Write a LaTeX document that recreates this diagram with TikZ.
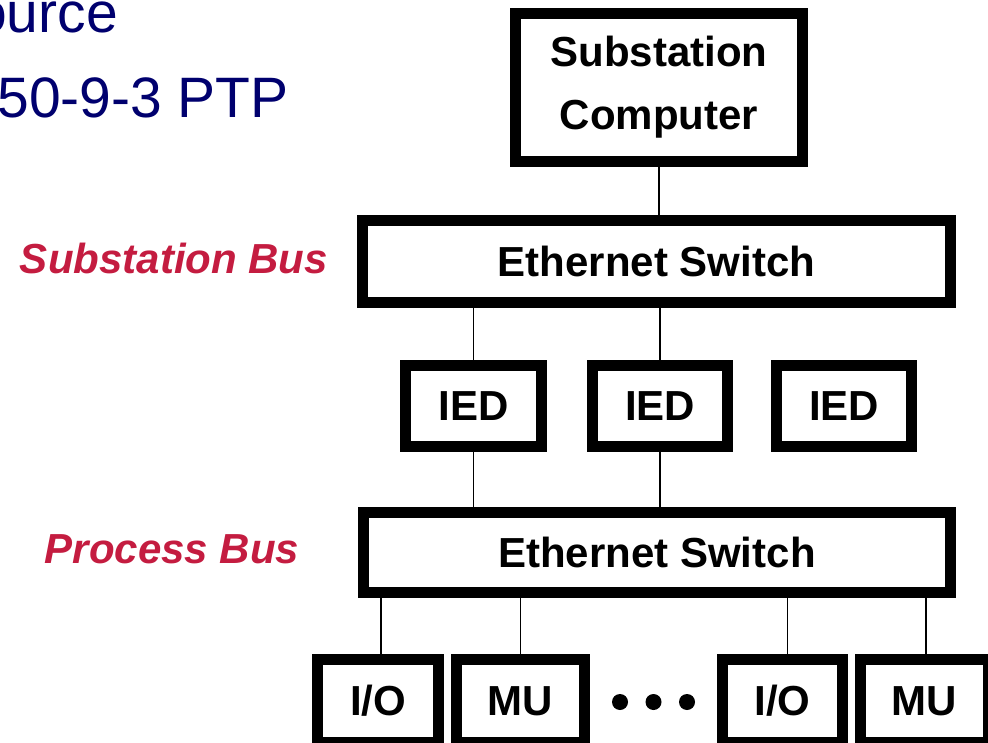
\documentclass[tikz,border=0pt]{standalone}
\usepackage{fontspec}
\setmainfont{Liberation Sans}
\usetikzlibrary{positioning,calc}
\definecolor{busred}{RGB}{196,28,64}
\definecolor{slidenavy}{RGB}{0,0,110}

\begin{document}
\begin{tikzpicture}[
    x=1pt, y=-1pt,
    box/.style={draw, line width=11pt, fill=white, inner sep=0pt, align=center,
                font=\fontsize{42}{63}\selectfont\bfseries},
    lbl/.style={text=busred, inner sep=0pt, font=\fontsize{42}{50}\selectfont\bfseries\itshape},
    note/.style={text=slidenavy, inner sep=0pt, anchor=base east,
                 font=\fontsize{57}{68}\selectfont},
    link/.style={line width=1.5pt},
    dot/.style={fill, circle, minimum size=16pt, inner sep=0pt},
  ]
    \useasboundingbox (0,0) rectangle (988,743);
    \clip (0,0) rectangle (988,743);
    % slide text cut off at the left edge
    \node[note] (src) at (118,33) {ource};
    \node[note] (ptp) at (289,118) {50-9-3 PTP};
    % boxes
    \node[box, minimum width=287pt, minimum height=148pt] (comp) at (659,87.5) {Substation\\Computer};
    \node[box, minimum width=588pt, minimum height=82pt]  (sw1)  at (656.5,261.5) {Ethernet Switch};
    \node[box, minimum width=136pt, minimum height=81pt]  (ied1) at (473.5,406) {IED};
    \node[box, minimum width=135pt, minimum height=81pt]  (ied2) at (660,406) {IED};
    \node[box, minimum width=135pt, minimum height=81pt]  (ied3) at (844,406) {IED};
    \node[box, minimum width=587pt, minimum height=80pt]  (sw2)  at (657,552.5) {Ethernet Switch};
    \node[box, minimum width=121pt, minimum height=83pt]  (io1)  at (378,701) {I/O};
    \node[box, minimum width=128pt, minimum height=83pt]  (mu1)  at (520.5,701) {MU};
    \node[box, minimum width=120pt, minimum height=83pt]  (io2)  at (782.5,701) {I/O};
    \node[box, minimum width=128pt, minimum height=83pt]  (mu2)  at (924.5,701) {MU};
    \node[dot] (d1) at (620,702) {};
    \node[dot] (d2) at (653.5,702) {};
    \node[dot] (d3) at (687,702) {};
    % bus labels
    \node[lbl] (sbus) at (174,258) {Substation Bus};
    \node[lbl] (pbus) at (172,549) {Process Bus};
    % links
    \draw[link] (comp.south) -- (comp.south |- sw1.north);
    \draw[link] (ied1.north) -- (ied1.north |- sw1.south);
    \draw[link] (ied2.north) -- (ied2.north |- sw1.south);
    \draw[link] (ied1.south) -- (ied1.south |- sw2.north);
    \draw[link] (ied2.south) -- (ied2.south |- sw2.north);
    \draw[link] ([xshift=3pt]io1.north) -- ([xshift=3pt]io1.north |- sw2.south);
    \draw[link] (mu1.north) -- (mu1.north |- sw2.south);
    \draw[link] ([xshift=5pt]io2.north) -- ([xshift=5pt]io2.north |- sw2.south);
    \draw[link] ([xshift=1.5pt]mu2.north) -- ([xshift=1.5pt]mu2.north |- sw2.south);
\end{tikzpicture}
\end{document}
